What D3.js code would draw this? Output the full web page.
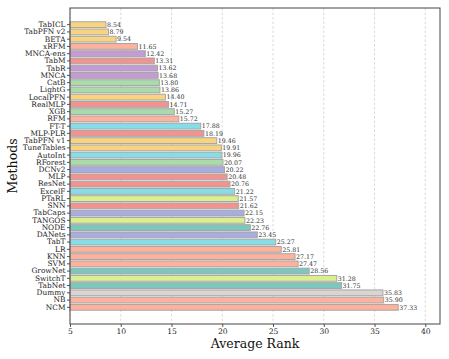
<!DOCTYPE html>
<html>
<head>
<meta charset="utf-8">
<script src="https://cdn.jsdelivr.net/npm/d3@7"></script>
<style>
  body { margin: 0; background: #fff; }
  text { font-family: "DejaVu Serif", serif; }
</style>
</head>
<body>
<script>
const methods = ['TabICL', 'TabPFN v2', 'BETA', 'xRFM', 'MNCA-ens', 'TabM', 'TabR', 'MNCA', 'CatB', 'LightG',
  'LocalPFN', 'RealMLP', 'XGB', 'RFM', 'FT-T', 'MLP-PLR', 'TabPFN v1', 'TuneTables', 'AutoInt', 'RForest',
  'DCNv2', 'MLP', 'ResNet', 'ExcelF', 'PTaRL', 'SNN', 'TabCaps', 'TANGOS', 'NODE', 'DANets',
  'TabT', 'LR', 'KNN', 'SVM', 'GrowNet', 'SwitchT', 'TabNet', 'Dummy', 'NB', 'NCM']
const ranks = [8.54, 8.79, 9.54, 11.65, 12.42, 13.31, 13.62, 13.68, 13.80, 13.86,
  14.40, 14.71, 15.27, 15.72, 17.88, 18.19, 19.46, 19.91, 19.96, 20.07,
  20.22, 20.48, 20.76, 21.22, 21.57, 21.62, 22.15, 22.23, 22.76, 23.45,
  25.27, 25.81, 27.17, 27.47, 28.56, 31.28, 31.75, 35.83, 35.90, 37.33]
const groups = ['pfn', 'pfn', 'pfn', 'classic', 'nbr', 'mlp', 'nbr', 'nbr', 'tree', 'tree',
  'pfn', 'mlp', 'tree', 'classic', 'tfm', 'mlp', 'pfn', 'pfn', 'tfm', 'tree',
  'emb', 'mlp', 'mlp', 'tfm', 'reg', 'mlp', 'emb', 'reg', 'diff', 'emb',
  'tfm', 'classic', 'classic', 'classic', 'diff', 'reg', 'diff', 'dummy', 'classic', 'classic']
const xTicks = [5, 10, 15, 20, 25, 30, 35, 40]

const palette = {
  pfn: '#f8d47f', classic: '#fdb29d', nbr: '#c49bd4', mlp: '#f19490', tree: '#aadbab',
  tfm: '#86dde8', emb: '#a8ade1', reg: '#d8f08d', diff: '#7cc8bd', dummy: '#d9d5d3'
}

const data = methods.map((m, i) => ({ name: m, value: ranks[i], group: groups[i] }))

const width = 449, height = 359
const margin = { top: 8, right: 9, bottom: 35, left: 70 }

const svg = d3.select('body').append('svg')
  .attr('width', width)
  .attr('height', height)

const x = d3.scaleLinear()
  .domain([5, 41.45])
  .range([margin.left, width - margin.right])

const y = d3.scaleBand()
  .domain(methods)
  .range([margin.top, height - margin.bottom])
  .paddingInner(0.2)
  .paddingOuter(1.9)

// grid
svg.append('g')
  .selectAll('line')
  .data(xTicks)
  .enter()
  .append('line')
  .attr('x1', d => x(d)).attr('x2', d => x(d))
  .attr('y1', margin.top).attr('y2', height - margin.bottom)
  .attr('stroke', '#d0d0d0')
  .attr('stroke-width', 0.8)
  .attr('stroke-dasharray', '2.5,2')

// bars
svg.append('g')
  .selectAll('rect')
  .data(data)
  .enter()
  .append('rect')
  .attr('x', x(5))
  .attr('y', d => y(d.name))
  .attr('width', d => x(d.value) - x(5))
  .attr('height', y.bandwidth())
  .attr('fill', d => palette[d.group])
  .attr('stroke', '#a6a6a6')
  .attr('stroke-width', 1)

// value labels
svg.append('g')
  .selectAll('text')
  .data(data)
  .enter()
  .append('text')
  .attr('x', d => x(d.value) + 1)
  .attr('y', d => y(d.name) + y.bandwidth() / 2)
  .attr('dy', '0.35em')
  .attr('font-size', 6.3)
  .attr('fill', '#333')
  .text(d => d.value.toFixed(2))

// axes
const xAxis = svg.append('g')
  .attr('transform', `translate(0, ${height - margin.bottom})`)
  .call(d3.axisBottom(x).tickValues(xTicks).tickSize(3).tickPadding(2))
xAxis.select('.domain').remove()
xAxis.selectAll('text').attr('font-size', 7.6).attr('fill', '#222').style('font-family', 'DejaVu Serif')
xAxis.selectAll('line').attr('stroke', '#555')

const yAxis = svg.append('g')
  .attr('transform', `translate(${margin.left}, 0)`)
  .call(d3.axisLeft(y).tickSize(3).tickPadding(1.5))
yAxis.select('.domain').remove()
yAxis.selectAll('text').attr('font-size', 7.4).attr('fill', '#222').style('font-family', 'DejaVu Serif')
yAxis.selectAll('line').attr('stroke', '#555')

// frame
svg.append('rect')
  .attr('x', margin.left)
  .attr('y', margin.top)
  .attr('width', width - margin.right - margin.left)
  .attr('height', height - margin.bottom - margin.top)
  .attr('fill', 'none')
  .attr('stroke', '#444')
  .attr('stroke-width', 1)

svg.append('text')
  .attr('x', (margin.left + width - margin.right) / 2)
  .attr('y', 348)
  .attr('text-anchor', 'middle')
  .attr('font-size', 12.5)
  .attr('fill', '#111')
  .text('Average Rank')

svg.append('text')
  .attr('transform', `translate(17, ${(margin.top + height - margin.bottom) / 2}) rotate(-90)`)
  .attr('text-anchor', 'middle')
  .attr('font-size', 12.5)
  .attr('fill', '#111')
  .text('Methods')
</script>
</body>
</html>
